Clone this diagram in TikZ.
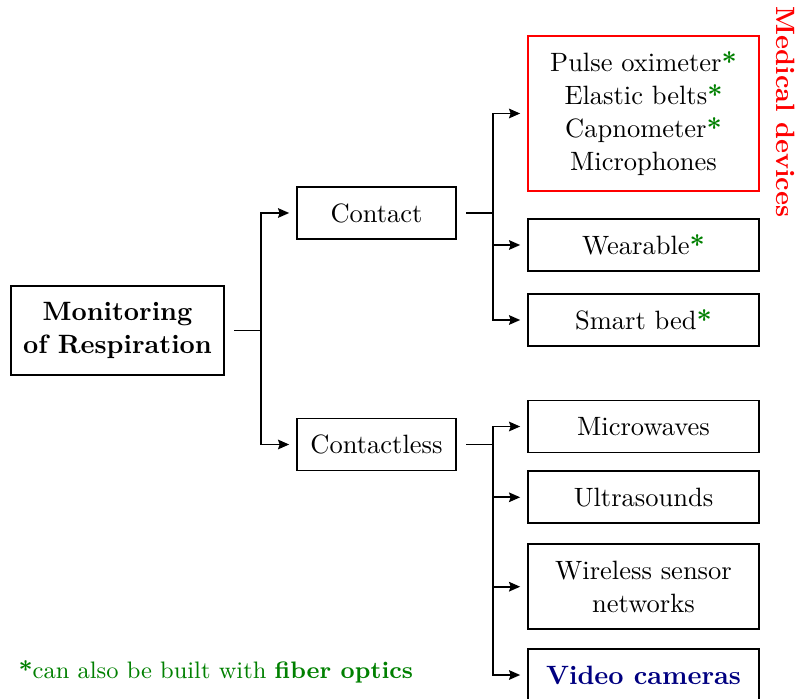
\documentclass[tikz,border=0pt]{standalone}
\usetikzlibrary{arrows.meta}
\definecolor{fibergreen}{RGB}{0,128,0}
\definecolor{camblue}{RGB}{0,0,128}
\newcommand{\fstar}{\textcolor{fibergreen}{\textbf{*}}}
\tikzset{
  box/.style={draw, line width=0.7pt, align=center, inner sep=2pt,
    font=\fontsize{10}{12.45}\selectfont},
  catbox/.style={box, minimum width=60pt, minimum height=19.62pt},
  leafbox/.style={box, minimum width=87.17pt, minimum height=19.62pt},
  conn/.style={line width=0.7pt, -{Stealth[length=4.2pt,width=3.6pt,inset=0.6pt]},
    shorten <=3.6pt, shorten >=2.6pt},
}
\begin{document}
\begin{tikzpicture}[x=0.37736pt, y=-0.37736pt]
  \useasboundingbox (0,0) rectangle (798,699);
  \clip (0,0) rectangle (798,699);

  % root of the tree
  \node[box, minimum width=80.38pt, minimum height=33.58pt,
        font=\fontsize{10}{12.45}\selectfont\bfseries] (root) at (117.5,330.5)
        {Monitoring\\of Respiration};

  % two categories
  \node[catbox] (contact) at (376.5,213) {Contact};
  \node[catbox] (contactless) at (376.5,444.5) {Contactless};

  % contact methods
  \node[leafbox, draw=red, minimum height=58.49pt] (medical) at (643.5,113.5)
        {Pulse oximeter\fstar\\Elastic belts\fstar\\Capnometer\fstar\\Microphones};
  \node[leafbox] (wearable) at (643.5,245) {Wearable\fstar};
  \node[leafbox] (smartbed) at (643.5,320) {Smart bed\fstar};

  % contactless methods
  \node[leafbox] (microwaves) at (643.5,426.5) {Microwaves};
  \node[leafbox] (ultrasounds) at (643.5,497.3) {Ultrasounds};
  \node[leafbox, minimum height=32.08pt] (wireless) at (643.5,586.7)
        {Wireless sensor\\networks};
  \node[leafbox, font=\fontsize{10}{12.45}\selectfont\bfseries, text=camblue]
        (video) at (643.5,675) {Video cameras};

  % side label of the medical devices group
  \node[rotate=-90, text=red, font=\fontsize{10}{12}\selectfont\bfseries]
        (medlabel) at (786,112) {Medical devices};

  % footnote
  \node[anchor=base west, inner sep=0pt, text=fibergreen,
        font=\fontsize{9}{11}\selectfont] (note) at (18,678)
        {\textbf{*}can also be built with \textbf{fiber optics}};

  % connectors
  \draw[conn] (root.east) -- ++(36,0) |- (contact.west);
  \draw[conn] (root.east) -- ++(36,0) |- (contactless.west);

  \foreach \t in {medical, wearable, smartbed}
    \draw[conn] (contact.east) -- ++(35.7,0) |- (\t.west);
  \foreach \t in {microwaves, ultrasounds, wireless, video}
    \draw[conn] (contactless.east) -- ++(35.7,0) |- (\t.west);
\end{tikzpicture}
\end{document}
